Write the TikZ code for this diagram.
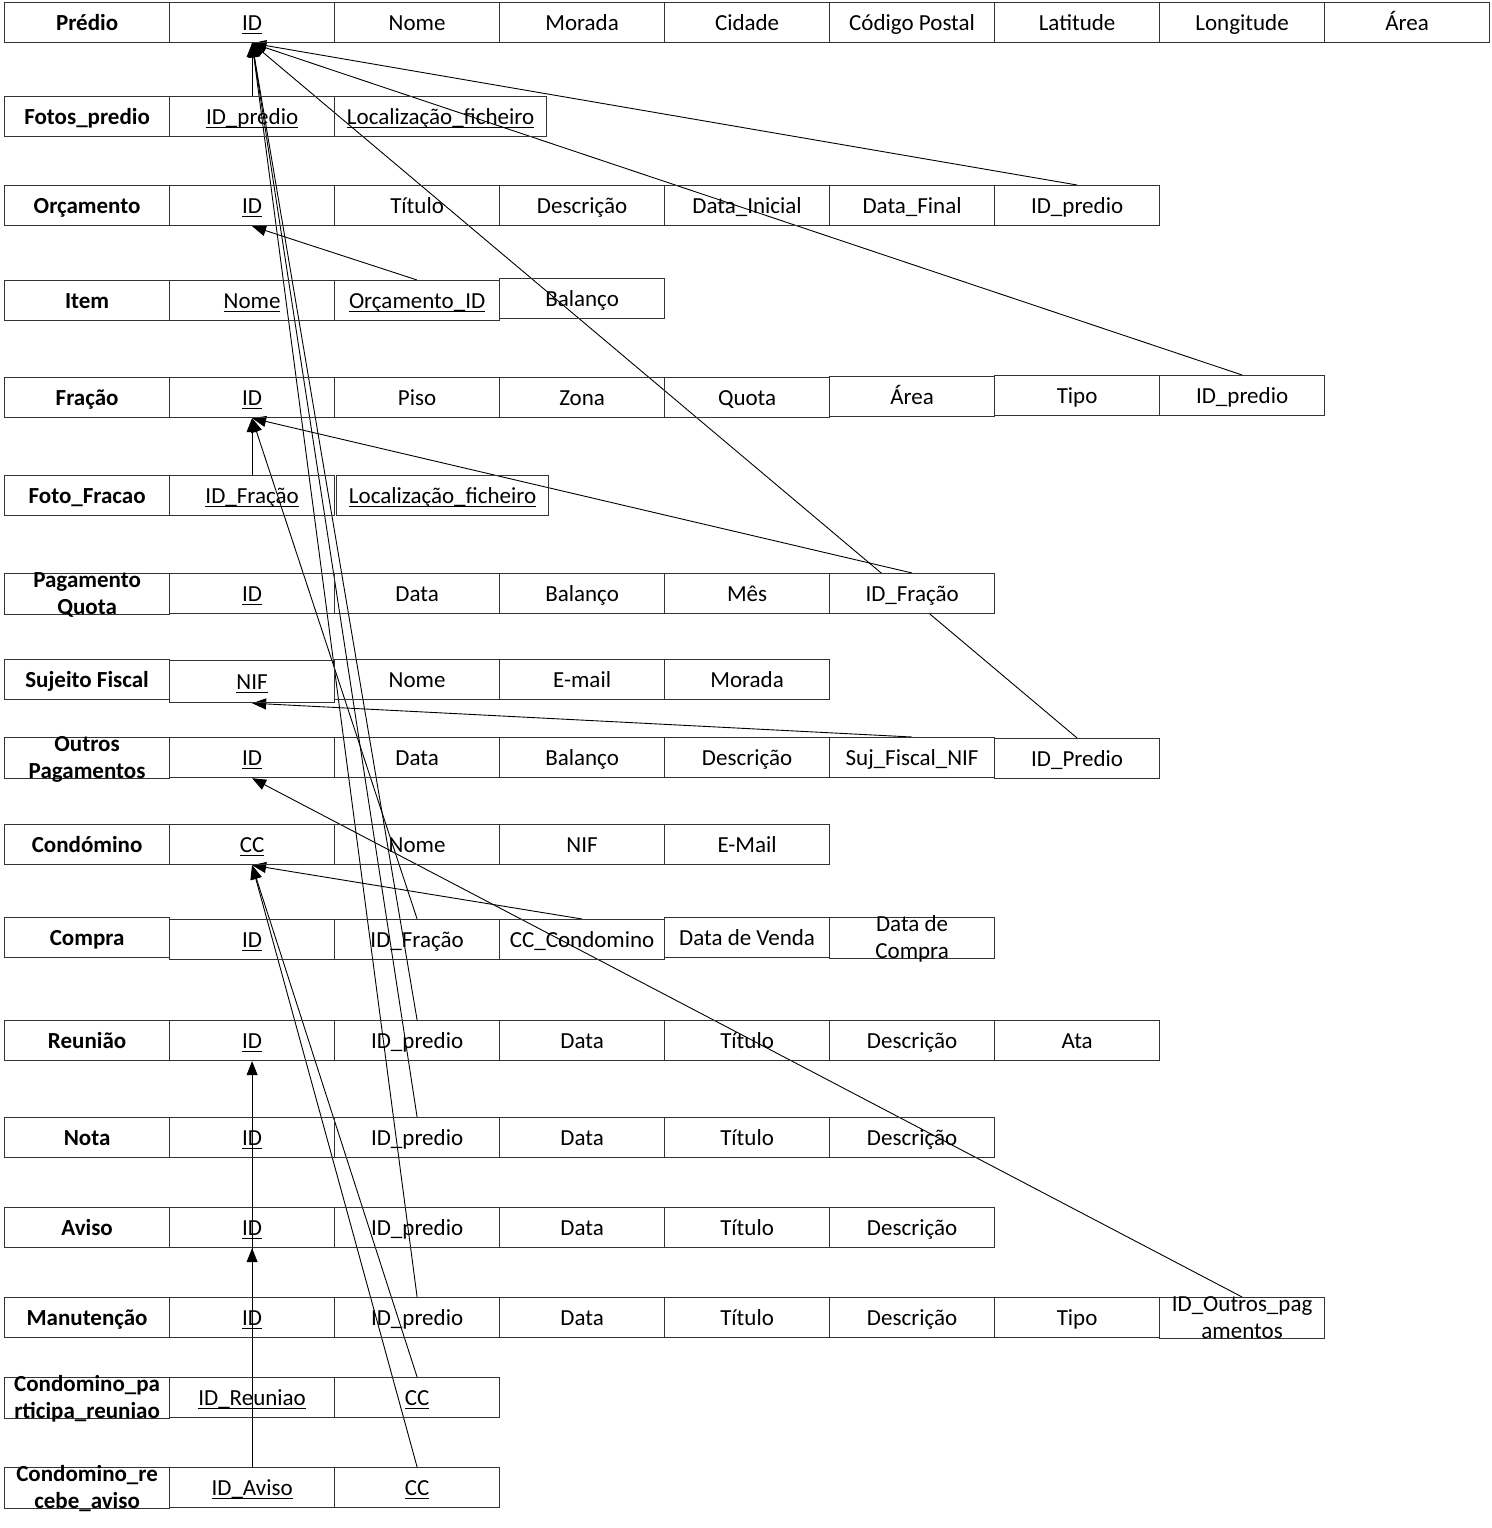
\documentclass[tikz,border=0pt]{standalone}
\usepackage{fontspec}
\setmainfont{Carlito}
\usetikzlibrary{arrows.meta}
\usetikzlibrary{backgrounds}

\newcommand{\pk}[1]{\underline{\smash{#1}}}

\tikzset{
  base/.style={draw=black!80, line width=.6pt, anchor=north west, inner sep=0pt,
    minimum width=82.5pt, minimum height=20pt,
    font=\fontsize{11.5}{13.5}\selectfont},
  cell/.style={base, text height=10.5pt, text depth=3pt},
  two/.style={base, align=center, text height=20.3pt, text depth=-.3pt},
  wide/.style={cell, minimum width=106pt},
  tname/.style={cell, font=\fontsize{11.5}{13.5}\selectfont\bfseries},
  tname2/.style={two, font=\fontsize{11.5}{13.5}\selectfont\bfseries},
  fk/.style={->, line width=.45pt},
}

\begin{document}
\begin{tikzpicture}[x=.5pt, y=-.5pt, >={Triangle[length=7pt,width=5.5pt]}]
  \useasboundingbox (0,0) rectangle (1492,1528);

  \path (4,2) node[tname] (pr) {Prédio}
    ++(165,0) node[cell] (prid) {\pk{ID}}
    ++(165,0) node[cell] (prno) {Nome}
    ++(165,0) node[cell] (prmo) {Morada}
    ++(165,0) node[cell] (prci) {Cidade}
    ++(165,0) node[cell] (prcp) {Código Postal}
    ++(165,0) node[cell] (prla) {Latitude}
    ++(165,0) node[cell] (prlo) {Longitude}
    ++(165,0) node[cell] (prar) {Área};

  \path (4,96) node[tname] (fp) {Fotos\_predio}
    ++(165,0) node[cell] (fpid) {\pk{ID\_predio}}
    ++(165,0) node[wide] (fplf) {\pk{Localização\_ficheiro}};

  \path (4,185) node[tname] (or) {Orçamento}
    ++(165,0) node[cell] (orid) {\pk{ID}}
    ++(165,0) node[cell] (ortt) {Título}
    ++(165,0) node[cell] (ords) {Descrição}
    ++(165,0) node[cell] (ordi) {Data\_Inicial}
    ++(165,0) node[cell] (ordf) {Data\_Final}
    ++(165,0) node[cell] (orpr) {ID\_predio};

  \path (4,280) node[tname] (it) {Item}
    ++(165,0) node[cell] (itno) {\pk{Nome}}
    ++(165,0) node[cell] (itor) {\pk{Orçamento\_ID}}
    ++(165,-2) node[cell] (itba) {Balanço};

  \path (4,377) node[tname] (fr) {Fração}
    ++(165,0) node[cell] (frid) {\pk{ID}}
    ++(165,0) node[cell] (frpi) {Piso}
    ++(165,0) node[cell] (frzo) {Zona}
    ++(165,0) node[cell] (frqu) {Quota}
    ++(165,-1) node[cell] (frar) {Área}
    ++(165,-1) node[cell] (frti) {Tipo}
    ++(165,0) node[cell] (frpr) {ID\_predio};

  \path (4,475) node[tname] (ff) {Foto\_Fracao}
    ++(165,0) node[cell] (fffr) {\pk{ID\_Fração}}
    ++(167,0) node[wide] (fflf) {\pk{Localização\_ficheiro}};

  \path (4,573) node[tname2] (pq) {Pagamento\\Quota}
    ++(165,0) node[cell] (pqid) {\pk{ID}}
    ++(165,0) node[cell] (pqda) {Data}
    ++(165,0) node[cell] (pqba) {Balanço}
    ++(165,0) node[cell] (pqme) {Mês}
    ++(165,0) node[cell, fill=white] (pqfr) {ID\_Fração};

  \path (4,659) node[tname] (sf) {Sujeito Fiscal}
    ++(165,1) node[cell, minimum height=21pt] (sfnif) {\pk{NIF}}
    ++(165,-1) node[cell] (sfno) {Nome}
    ++(165,0) node[cell] (sfem) {E-mail}
    ++(165,0) node[cell] (sfmo) {Morada};

  \path (4,737) node[tname2] (op) {Outros\\Pagamentos}
    ++(165,0) node[cell] (opid) {\pk{ID}}
    ++(165,0) node[cell] (opda) {Data}
    ++(165,0) node[cell] (opba) {Balanço}
    ++(165,0) node[cell] (opds) {Descrição}
    ++(165,0) node[cell] (opnif) {Suj\_Fiscal\_NIF}
    ++(165,1) node[cell] (oppr) {ID\_Predio};

  \path (4,824) node[tname] (co) {Condómino}
    ++(165,0) node[cell] (cocc) {\pk{CC}}
    ++(165,0) node[cell] (cono) {Nome}
    ++(165,0) node[cell] (conif) {NIF}
    ++(165,0) node[cell] (coem) {E-Mail};

  \path (4,917) node[tname] (cp) {Compra}
    ++(165,2) node[cell] (cpid) {\pk{ID}}
    ++(165,0) node[cell] (cpfr) {ID\_Fração}
    ++(165,0) node[cell] (cpcc) {CC\_Condomino}
    ++(165,-2) node[cell] (cpdv) {Data de Venda}
    ++(165,0) node[two] (cpdc) {Data de\\Compra};

  \path (4,1020) node[tname] (re) {Reunião}
    ++(165,0) node[cell] (reid) {\pk{ID}}
    ++(165,0) node[cell] (repr) {ID\_predio}
    ++(165,0) node[cell] (reda) {Data}
    ++(165,0) node[cell] (rett) {Título}
    ++(165,0) node[cell] (reds) {Descrição}
    ++(165,0) node[cell] (reat) {Ata};

  \path (4,1117) node[tname] (no) {Nota}
    ++(165,0) node[cell] (noid) {\pk{ID}}
    ++(165,0) node[cell] (nopr) {ID\_predio}
    ++(165,0) node[cell] (noda) {Data}
    ++(165,0) node[cell] (nott) {Título}
    ++(165,0) node[cell] (nods) {Descrição};

  \path (4,1207) node[tname] (av) {Aviso}
    ++(165,0) node[cell] (avid) {\pk{ID}}
    ++(165,0) node[cell] (avpr) {ID\_predio}
    ++(165,0) node[cell] (avda) {Data}
    ++(165,0) node[cell] (avtt) {Título}
    ++(165,0) node[cell] (avds) {Descrição};

  \path (4,1297) node[tname] (ma) {Manutenção}
    ++(165,0) node[cell] (maid) {\pk{ID}}
    ++(165,0) node[cell] (mapr) {ID\_predio}
    ++(165,0) node[cell] (mada) {Data}
    ++(165,0) node[cell] (matt) {Título}
    ++(165,0) node[cell] (mads) {Descrição}
    ++(165,0) node[cell] (mati) {Tipo}
    ++(165,0) node[two] (maop) {ID\_Outros\_pag\\amentos};

  \path (4,1377) node[tname2] (cpr) {Condomino\_pa\\rticipa\_reuniao}
    ++(165,0) node[cell] (cprre) {\pk{ID\_Reuniao}}
    ++(165,0) node[cell] (cprcc) {\pk{CC}};

  \path (4,1467) node[tname2] (cra) {Condomino\_re\\cebe\_aviso}
    ++(165,0) node[cell] (craav) {\pk{ID\_Aviso}}
    ++(165,0) node[cell] (cracc) {\pk{CC}};

  \begin{scope}[on background layer]
    \draw[fk] (fpid.north) -- (prid.south);
    \draw[fk] (orpr.north) -- (prid.south);
    \draw[fk] (frpr.north) -- (prid.south);
    \draw[fk] (oppr.north) -- (prid.south);
    \draw[fk] (repr.north) -- (prid.south);
    \draw[fk] (nopr.north) -- (prid.south);
    \draw[fk] (mapr.north) -- (prid.south);
    \draw[fk] (itor.north) -- (orid.south);
    \draw[fk] (fffr.north) -- (frid.south);
    \draw[fk] (pqfr.north) -- (frid.south);
    \draw[fk] (cpfr.north) -- (frid.south);
    \draw[fk] (opnif.north) -- (sfnif.south);
    \draw[fk] (maop.north) -- (opid.south);
    \draw[fk] (cpcc.north) -- (cocc.south);
    \draw[fk] (cprcc.north) -- (cocc.south);
    \draw[fk] (cracc.north) -- (cocc.south);
    \draw[fk] (cprre.north) -- (reid.south);
    \draw[fk] (craav.north) -- (avid.south);
  \end{scope}
\end{tikzpicture}
\end{document}
